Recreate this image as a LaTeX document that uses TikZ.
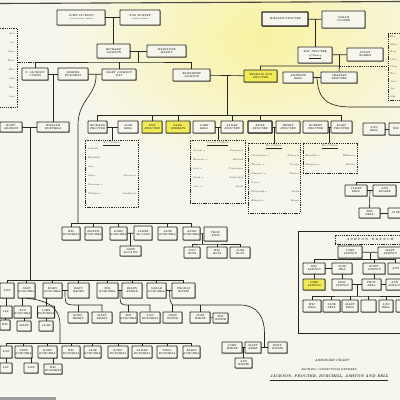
\documentclass[tikz,border=0pt]{standalone}
\usetikzlibrary{shadows}
\definecolor{paper}{HTML}{F7F6EC}
\definecolor{glow}{HTML}{F8F3A0}
\definecolor{ink}{HTML}{262624}
\definecolor{hiyel}{HTML}{F0EA55}
\tikzset{
 pb/.style={draw=ink, line width=0.75pt, fill=paper, rounded corners=0.5pt, inner sep=0.2pt, align=center, text=ink,
   font=\fontsize{2.7}{3}\selectfont\bfseries\itshape,
   drop shadow={shadow xshift=0.7pt, shadow yshift=-0.7pt, fill=ink, opacity=0.75}},
 hl/.style={fill=hiyel},
 thk/.style={line width=1.1pt},
 ln/.style={draw=ink, line width=0.65pt},
 dsh/.style={draw=ink, line width=0.5pt, dash pattern=on 1.3pt off 0.9pt},
 lst/.style={inner sep=0, text=ink, font=\fontsize{2.5}{9}\selectfont\itshape},
 ttl/.style={inner sep=0, text=ink, font=\fontsize{3.1}{3.4}\selectfont\bfseries\itshape},
}
\newcommand\bx[7][]{\node[pb,#1,minimum width={(#5)-(#3)},minimum height={(#6)-(#4)}] (#2) at ({(#3+#5)/2},{(#4+#6)/2}) {#7};}
\newcommand\dbx[5]{\node[dsh,inner sep=0,minimum width={(#4)-(#2)},minimum height={(#5)-(#3)}] (#1) at ({(#2+#4)/2},{(#3+#5)/2}) {};}
\begin{document}
\begin{tikzpicture}[x=1pt,y=-1pt]
\useasboundingbox (0,0) rectangle (400,400);
\fill[paper] (0,0) rectangle (400,400);
\shade[inner color=glow, outer color=paper] (262,38) ellipse (200 and 140);
\draw[ink!85, line width=1.1pt] (0,3.5) -- (400,1.5);
\fill[ink!45] (0,396.5) rectangle (56,400);

% ---------- generation 1 ----------
\bx{jj}{57}{10}{105}{25}{JOHN JACKSON\\[-0.2pt]{\fontsize{1.9}{2.2}\selectfont of Cornerstone, Ireland}}
\bx{am}{120}{10}{160}{25}{ANN MOFFET\\[-0.2pt]{\fontsize{1.9}{2.2}\selectfont of Moira, Ireland}}
\bx[thk]{wp}{262}{12}{308}{26}{WILLIAM PROCTER}
\bx{sc}{322}{11}{365}{28}{SARAH\\COOPER}
% ---------- generation 2 ----------
\bx{rj}{97}{44}{130}{58}{RICHARD\\JACKSON}
\bx{mh}{147}{45}{186}{57}{MARIANNE\\HARDY}
\bx{wmp}{298}{47}{332}{63}{WM. PROCTER\\[0.4pt]\underline{of Newry}}
\bx{sn}{347}{48}{383}{61}{SUSAN\\NORRIS}
% ---------- generation 3 ----------
\bx{c1}{22}{68}{48}{80}{S. JACKSON\\CURTIS}
\bx{c2}{58}{68}{88}{80}{JEMIMA\\BURCHILL}
\bx{c3}{102}{69}{136}{80}{MARY JACKSON\\DAY}
\bx{c4}{173}{69}{210}{81}{ELIZABETH\\JACKSON}
\bx[hl]{p1}{244}{70}{277}{82}{WILLIAM ANN\\PROCTER}
\bx{p2}{283}{72}{313}{83}{AMBROSE\\BELL}
\bx{p3}{321}{72}{357}{83}{CHARLES\\PROCTER}
% ---------- side lists ----------
\dbx{d0}{-5}{28}{17}{107}
\node[lst,anchor=north east,align=right] (d0t) at (15,33) {Ann\\Jas.\\Mary\\Thos.\\Eliz.\\John\\Wm.\\Jane};
\dbx{d5}{388}{33}{410}{100}
\node[lst,anchor=north west,align=left,font=\fontsize{2.5}{7.4}\selectfont\itshape] (d5t) at (390,36) {Eliz.\\Mary\\Benj.\\Chas.\\Clara\\Wm.\\John\\Jas.\\Mgt.};
% ---------- generation 4 ----------
\bx{b0}{0}{122}{22}{132}{ROBT.\\ADDISON}
\bx{b1}{37}{122}{69}{132}{WILLIAM\\BURCHILL}
\bx{m1}{88}{121}{107}{133}{RICHARD\\PROCTER}
\bx{m2}{118}{121}{138}{133}{JANE\\BELL}
\bx[hl]{m3}{142}{121}{162}{133}{ANN\\PROCTER}
\bx[hl]{m4}{166}{121}{190}{133}{SAML.\\SPERRIN}
\bx{m5}{193}{121}{215}{133}{JOHN\\BELL}
\bx{m6}{221}{121}{243}{133}{SARAH\\PROCTER}
\bx[thk]{m7}{248}{121}{272}{133}{ELISE\\PROCTER}
\bx{m8}{276}{121}{300}{133}{HENRY\\PROCTER}
\bx{m9}{303}{121}{328}{133}{ROBERT\\PROCTER}
\bx{m10}{331}{121}{352}{133}{MARY\\PROCTER}
\bx{r1}{363}{123}{385}{135}{ANN\\BELL}
\bx{r2}{389}{123}{403}{135}{WM.}
% ---------- dashed family lists ----------
\dbx{d1}{85}{140}{138}{207}
\node[lst,anchor=north] (d1h) at (111.5,142) {\underline{His Children}};
\node[lst,anchor=north west,text width=48pt,align=left] (d1t) at (88,148) {Isabella\\Elizabeth\\Ann\\Mary \hfill Stevenson\\Dunning = \\William = \hfill Leadbeater};
\dbx{d2}{190}{140}{245}{203}
\node[lst,anchor=north] (d2h) at (217.5,142) {\underline{Procter Children}};
\node[lst,anchor=north west,text width=50pt,align=left] (d2t) at (193,150) {George = \hfill Greenwood\\Ebenezer = \hfill Milward\\Ann = \hfill Pennington\\Sarah = \hfill Sutherland\\Jane = \hfill Smith};
\dbx{d3}{248}{143}{300}{213}
\node[lst,anchor=north] (d3h) at (274,145) {\underline{His Children}};
\node[lst,anchor=north west,text width=48pt,align=left] (d3t) at (251,155) {Christopher = \hfill Robinson\\Thomas = \hfill Crosbie\\Margaret = \hfill Stanton\\Pearce\\Fitzgerald = \hfill Smith\\Edward = \hfill Mayne};
\dbx{d4}{303}{143}{357}{173}
\node[lst,anchor=north] (d4h) at (330,145) {\underline{His Children}};
\node[lst,anchor=north west,text width=50pt,align=left] (d4t) at (305,155) {Elizabeth = \hfill Wilkinson\\Margaret = \hfill Hartley};
% ---------- right middle ----------
\bx{t1}{345}{185}{367}{196}{JAMES\\BELL}
\bx{t2}{373}{185}{396}{196}{ANN\\MOORE}
\bx{t3}{359}{208}{380}{218}{WM.\\BELL}
\bx{t4}{388}{208}{403}{218}{JANE}
% ---------- generation 5 (middle) ----------
\bx{g1}{62}{227}{80}{240}{WM.\\BURCHILL}
\bx{g2}{85}{227}{102}{240}{ELIZTH.\\BURCHILL}
\bx{g3}{110}{227}{127}{240}{MARY\\BURCHILL}
\bx{g4}{134}{226}{152}{240}{JAMES\\McCANN}
\bx{g5}{158}{227}{177}{240}{JANE\\BURCHILL}
\bx{g6}{183}{227}{200}{240}{ANNE\\BURCHILL}
\bx{g7}{204}{227}{227}{241}{THOS.\\ROSS}
\bx{k1}{120}{246}{141}{256}{JOHN\\McCANN}
\bx{k2}{184}{247}{200}{258}{ANN\\ROSS}
\bx{k3}{207}{247}{227}{258}{WM.\\ROSS}
\bx{k4}{230}{247}{250}{258}{JANE\\ROSS}
% ---------- generation 5 (left) ----------
\bx{h1}{0}{283}{14}{298}{ANN}
\bx{h2}{18}{283}{35}{298}{JOHN\\BURCHILL}
\bx{h3}{43}{283}{62}{298}{MARY\\BURCHILL}
\bx{h4}{68}{283}{89}{298}{ROBT.\\HENRY}
\bx{h5}{97}{283}{118}{298}{WM.\\BURCHILL}
\bx{h6}{122}{283}{142}{298}{ELLEN\\BURKE}
\bx{h7}{147}{283}{166}{298}{SARAH\\BURCHILL}
\bx{h8}{172}{283}{195}{298}{THOMAS\\WHITE}
\bx{l1}{0}{306}{12}{318}{JAS.}
\bx{l2}{14}{306}{31}{318}{ANN\\BURCHILL}
\bx{l3}{38}{306}{54}{318}{JOHN\\BURCHILL}
\bx{l4}{0}{320}{10}{330}{WM.}
\bx{l5}{17}{321}{31}{331}{MARY}
\bx{l6}{39}{321}{53}{331}{JANE}
\bx{n1}{68}{312}{88}{323}{ROBT.\\HENRY}
\bx{n2}{92}{312}{112}{323}{MARY\\HENRY}
\bx{n3}{120}{312}{137}{323}{WM.\\BURCHILL}
\bx{n4}{140}{312}{160}{323}{ANN\\BURCHILL}
\bx{n5}{163}{312}{182}{323}{JOHN\\WHITE}
\bx{n6}{190}{312}{210}{323}{JANE\\WHITE}
\bx{n7}{213}{313}{228}{323}{WM.\\WHITE}
% ---------- generation 6 ----------
\bx{q1}{0}{346}{12}{358}{ANN}
\bx{q2}{15}{346}{32}{358}{JOHN\\BURCHILL}
\bx{q3}{38}{346}{57}{358}{MARY\\BURCHILL}
\bx{q4}{62}{346}{80}{358}{WM.\\BURCHILL}
\bx{q5}{84}{346}{101}{358}{JANE\\BURCHILL}
\bx{q6}{108}{346}{128}{358}{ROBT.\\BURCHILL}
\bx{q7}{132}{346}{152}{358}{SARAH\\BURCHILL}
\bx{q8}{157}{346}{177}{358}{THOS.\\BURCHILL}
\bx{q9}{183}{346}{200}{358}{ELLEN\\BURCHILL}
\bx{u1}{0}{363}{12}{373}{JAS.}
\bx{u2}{24}{363}{38}{373}{ANN}
\bx{u3}{44}{364}{62}{374}{WM.\\BURCHILL}
\bx{s1}{222}{342}{242}{353}{JOHN\\WHITE}
\bx{s2}{245}{342}{261}{353}{MARY\\KERR}
\bx{s3}{268}{342}{287}{353}{ROBT.\\WHITE}
\bx{s4}{235}{358}{252}{368}{ANN\\WHITE}
% ---------- Ashton branch ----------
\draw[ln,line width=0.7pt] (298,231) rectangle (405,333);
\node[dsh,inner sep=0,minimum width=70,minimum height=9,text=ink,font=\fontsize{3}{3}\selectfont\bfseries\itshape] (ashh) at (370,239.5) {A S H T O N \ \ B R A N C H};
\bx{a1}{338}{246}{362}{258}{JOHN\\ASHTON}
\bx{a2}{378}{247}{402}{258}{MARY\\ASHTON}
\bx{a3}{303}{263}{325}{274}{WM.\\ASHTON}
\bx{a4}{332}{263}{352}{274}{JANE\\HILL}
\bx{a5}{363}{263}{385}{274}{ROBT.\\ASHTON}
\bx{a6}{388}{263}{403}{274}{ANN}
\bx[hl]{a7}{303}{279}{325}{290}{JOHN\\ASHTON}
\bx{a8}{332}{279}{352}{290}{ELIZ.\\ASHTON}
\bx{a9}{362}{279}{381}{290}{THOS.\\BELL}
\bx{a10}{386}{279}{403}{290}{ANN\\ASHTON}
\bx{a11}{303}{300}{321}{312}{WM.\\BELL}
\bx{a12}{323}{300}{340}{312}{JANE\\BELL}
\bx{a13}{342}{300}{358}{312}{MARY\\BELL}
\bx{a14}{361}{300}{376}{312}{}
\bx{a15}{379}{300}{393}{312}{ANN\\BELL}
\bx{a16}{396}{300}{410}{312}{}
% ---------- title ----------
\node[ttl] (ti1) at (332,360) {ABRIDGED CHART};
\node[ttl,font=\fontsize{2.6}{3}\selectfont\bfseries\itshape] (ti2) at (329,369.5) {SHOWING CONNECTIONS BETWEEN};
\node[ttl,anchor=west,font=\fontsize{3.8}{4}\selectfont\bfseries\itshape] (ti3) at (270,378) {\underline{JACKSON, PROCTER, BURCHILL, ASHTON AND BELL}};

% ================= connectors =================
% Jackson
\coordinate (jm) at (113.5,17.5);
\draw[ln] (jj) -- (am);
\draw[ln] (jm) -- (rj.north);
\draw[ln] (rj) -- (mh);
\coordinate (rm) at (138.5,51);
\coordinate (jb) at (138.5,62);
\draw[ln] (rm) -- (jb);
\draw[ln] (c1.north) |- (jb) -| (c4.north);
\draw[ln] (c3.north) -- (c3.north |- jb);
\draw[dsh] (d0.east |- jb) -- (c1.north |- jb);
\draw[ln] (c1) -- (c2);
\draw[ln] (c2) -- (c3);
\coordinate (cm12) at (53,74);
\draw[ln] (cm12) -- (b1.north);
\coordinate (cm23) at (96,74.5);
\coordinate (gb) at (78,223);
\draw[ln] (cm23) .. controls (97,95) and (78,100) .. (78,125) -- (gb);
\draw[ln] (g1.north) -- (g1.north |- gb) -- (g6.north |- gb) -- (g6.north);
\foreach \n in {g2,g3,g5} \draw[ln] (\n.north) -- (\n.north |- gb);
\draw[ln] (g3) -- (g4);
\coordinate (g34) at (130.5,233);
\draw[ln] (g34) -- (k1.north);
\draw[ln] (g6) -- (g7);
\coordinate (k67) at (202,233.5);
\coordinate (kb) at (202,244);
\draw[ln] (k67) -- (kb);
\draw[ln] (k2.north) |- (kb) -| (k4.north);
\draw[ln] (k3.north) -- (k3.north |- kb);
% Burchill / left
\draw[ln] (b0) -- (b1);
\coordinate (bb) at (30,127);
\coordinate (hb) at (30,280);
\draw[ln] (bb) -- (hb);
\draw[ln] (h1.north) -- (h1.north |- hb) -- (h8.north |- hb) -- (h8.north);
\foreach \n in {h2,h3,h4,h5,h6,h7} \draw[ln] (\n.north) -- (\n.north |- hb);
\draw[ln] (l1.north) -- (l1.north |- h1.south);
\draw[ln] (l2.north) -- (l2.north |- h2.south);
\draw[ln] (l3.north) -- (l3.north |- h3.south);
\draw[ln] (l4.north) -- (l4.north |- l1.south);
\draw[ln] (l5.north) -- (l5.north |- l2.south);
\draw[ln] (l6.north) -- (l6.north |- l3.south);
\draw[ln] (h3) -- (h4);
\coordinate (e1) at (65,290.5);
\coordinate (nb1) at (78,305);
\draw[ln] (e1) .. controls (65,305) .. (nb1) -| (n2.north);
\draw[ln] (nb1) -- (n1.north);
\draw[ln] (h5) -- (h6);
\coordinate (e2) at (120,290.5);
\coordinate (nb2) at (128.5,305);
\draw[ln] (e2) .. controls (120,305) .. (nb2) -| (n4.north);
\draw[ln] (nb2) -- (n3.north);
\draw[ln] (h7) -- (h8);
\coordinate (e3) at (169.5,290.5);
\coordinate (nb3) at (172.5,305);
\coordinate (sm) at (264.5,347.5);
\draw[ln] (e3) .. controls (170,302) .. (nb3) -- (240,305) .. controls (258,305) and (264.5,318) .. (264.5,333) -- (sm);
\draw[ln] (nb3) -- (n5.north);
\draw[ln] (n6.north) -- (n6.north |- nb3);
\draw[ln] (n6) -- (n7);
\draw[ln] (s1) -- (s2);
\draw[ln] (s2) -- (s3);
\coordinate (s12) at (243.5,347.5);
\draw[ln] (s12) -- (s4.north);
\coordinate (qb) at (60,343);
\draw[ln] (h2.south) .. controls (48,300) and (60,308) .. (60,325) -- (qb);
\draw[ln] (q1.north) -- (q1.north |- qb) -- (q9.north |- qb) -- (q9.north);
\foreach \n in {q2,q3,q4,q5,q6,q7,q8} \draw[ln] (\n.north) -- (\n.north |- qb);
\draw[ln] (u1.north) -- (u1.north |- q1.south);
\draw[ln] (u2.north) -- (u2.north |- q2.south);
\draw[ln] (u3.north) -- (u3.north |- q3.south);
% Procter
\draw[ln] (wp) -- (sc);
\coordinate (wm) at (315,19.2);
\draw[ln] (wm) -- (wmp.north);
\draw[ln] (wmp) -- (sn);
\coordinate (pm) at (339.5,54.8);
\coordinate (pb) at (339.5,66);
\draw[ln] (pm) -- (pb);
\draw[ln] (p1.north) |- (pb) -- (p3.north);
\draw[dsh] (pb) -- (pb -| d5.west);
\draw[ln] (c4) -- (p1);
\coordinate (em) at (227,75.5);
\coordinate (mb) at (227,115);
\draw[ln] (em) -- (mb);
\draw[ln] (m1.north) -- (m1.north |- mb) -- (m10.north |- mb) -- (m10.north);
\foreach \n in {m3,m4,m6,m7} \draw[ln] (\n.north) -- (\n.north |- mb);
\draw[ln] (m1) -- (m2);
\draw[ln] (m5) -- (m6);
\draw[ln] (m7) -- (m8);
\draw[ln] (m9) -- (m10);
\coordinate (k12) at (112.5,127);
\draw[ln] (k12) -- (k12 |- d1.north);
\coordinate (k56) at (218,127);
\draw[ln] (k56) -- (k56 |- d2.north);
\coordinate (k78) at (274,127);
\draw[ln] (k78) -- (k78 |- d3.north);
\coordinate (k910) at (329.5,127);
\draw[ln] (k910) -- (k910 |- d4.north);
\draw[ln] (p2) -- (p3);
\coordinate (bm) at (317,77.5);
\coordinate (rc) at (405,107);
\draw[ln] (bm) .. controls (318,100) and (328,107) .. (352,107) -- (rc);
\draw[ln] (r1) -- (r2);
\coordinate (tc) at (405,182);
\draw[ln] (t1.north) |- (tc);
\draw[ln] (t1) -- (t2);
\coordinate (t12) at (370,190.5);
\draw[ln] (t12) -- (t3.north);
\draw[ln] (t3) -- (t4);
% Ashton
\draw[ln] (a1) -- (a2);
\coordinate (am1) at (370,252.5);
\coordinate (ab1) at (370,259.5);
\draw[ln] (am1) -- (ab1);
\draw[ln] (a3.north) |- (ab1) -| (a6.north);
\draw[ln] (a5.north) -- (a5.north |- ab1);
\draw[ln] (a3) -- (a4);
\draw[ln] (a3.south) -- (a7.north);
\draw[ln] (a4.south) -- (a8.north);
\draw[ln] (a5.south) -- (a5.south |- a9.north);
\draw[ln] (a8) -- (a9);
\draw[ln] (a9) -- (a10);
\coordinate (a89) at (357,284.5);
\coordinate (ab2) at (357,296);
\draw[ln] (a89) -- (ab2);
\draw[ln] (a11.north) |- (ab2) -| (a16.north);
\foreach \n in {a12,a13,a14,a15} \draw[ln] (\n.north) -- (\n.north |- ab2);
\end{tikzpicture}
\end{document}
